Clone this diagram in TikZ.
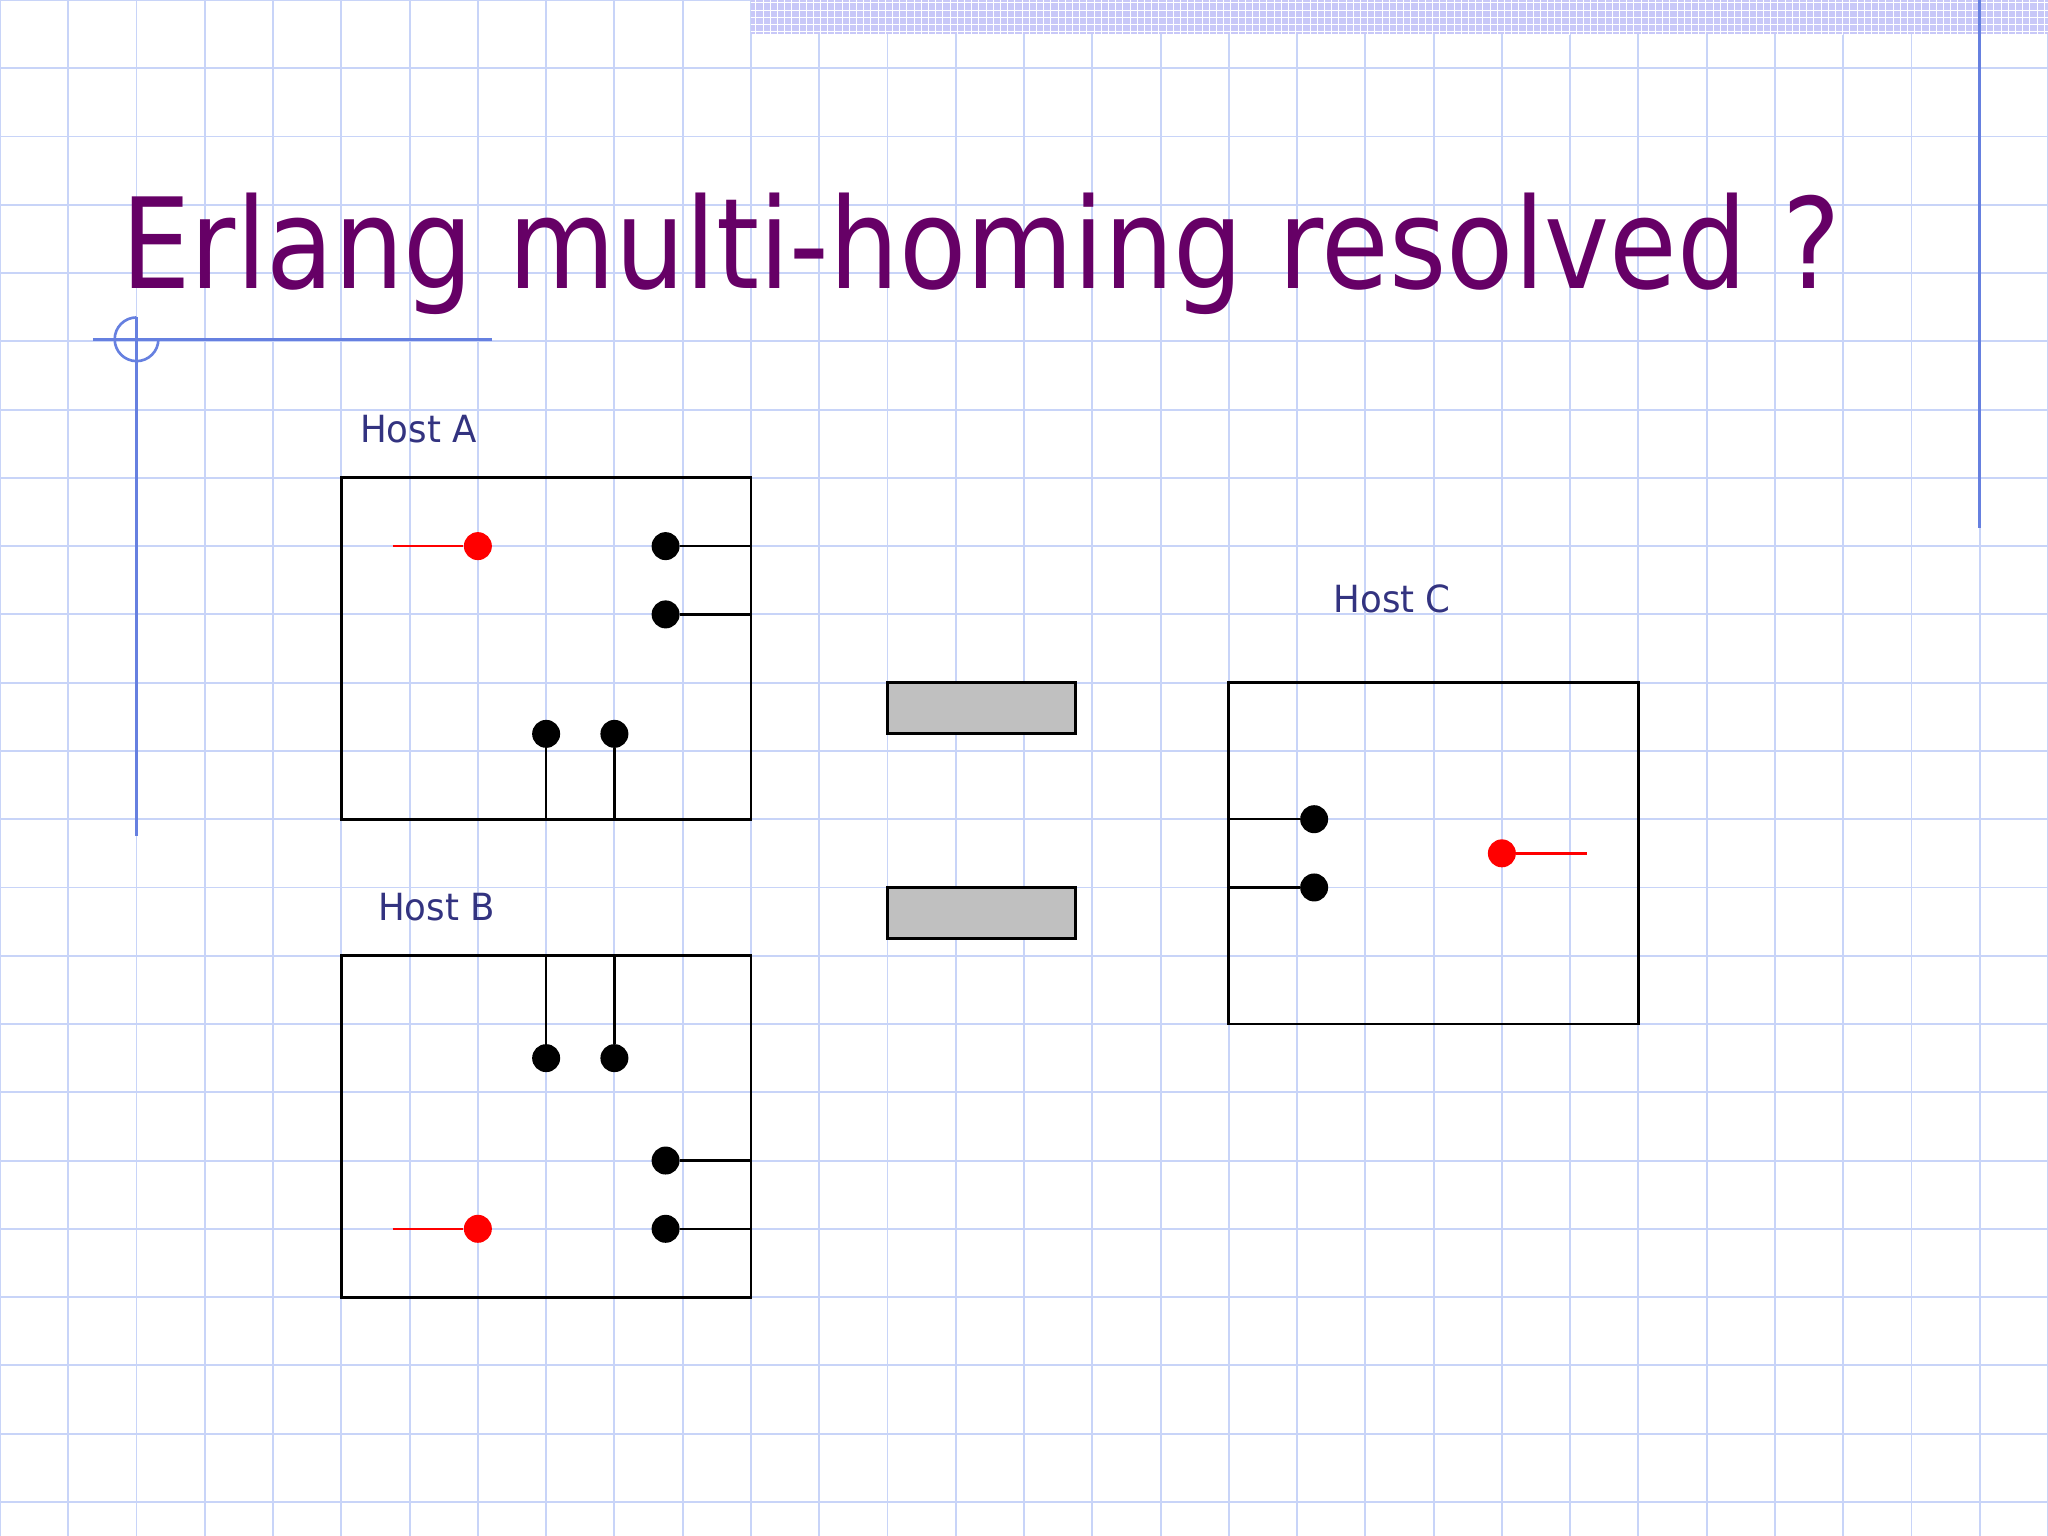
\documentclass[tikz,border=0pt]{standalone}
\usepackage{fontspec}
\newfontfamily\titlefont[FakeStretch=0.875]{DejaVu Sans}
\newfontfamily\hostfont[FakeStretch=0.95]{DejaVu Sans}
\usetikzlibrary{patterns}

\definecolor{gridblue}{RGB}{200,212,248}
\definecolor{decorblue}{RGB}{102,128,224}
\definecolor{bannerblue}{RGB}{200,200,248}
\definecolor{titlepurple}{RGB}{102,0,102}
\definecolor{hostblue}{RGB}{51,51,128}
\definecolor{linkgray}{RGB}{192,192,192}

\tikzset{
  hostbox/.style={draw, line width=1.2pt, inner sep=0,
    minimum width=6cm, minimum height=5cm},
  link/.style={draw, fill=linkgray, line width=1.2pt, inner sep=0,
    minimum width=2.75cm, minimum height=0.75cm},
  dot/.style={circle, fill=black, inner sep=0, minimum size=0.41cm},
  reddot/.style={dot, fill=red},
  wire/.style={line width=1pt},
  redwire/.style={red, line width=1pt},
  decor/.style={decorblue, line width=1.1pt},
  hostlabel/.style={anchor=base west, inner sep=0, text=hostblue,
    font=\hostfont\fontsize{15.6}{18}\selectfont}
}

\begin{document}
\begin{tikzpicture}[x=1cm, y=-1cm]
  \useasboundingbox (0,0) rectangle (30,22.5);
  \fill[white] (0,0) rectangle (30,22.5);
  \draw[gridblue, line width=0.8pt] (0,0) grid (30,22.5);
  \fill[bannerblue] (11,0) rectangle (30,0.5);
  \fill[pattern=grid, pattern color=white] (11,0) rectangle (30,0.5);

  % slide decoration
  \draw[decor] (1.36,4.97) -- (7.2,4.97);
  \draw[decor] (2,4.65) -- (2,12.25);
  \draw[decor] (2,4.65) arc[start angle=-90, end angle=-360, radius=0.32];
  \draw[decor] (29,0) -- (29,7.74);

  \node[anchor=base west, inner sep=0, text=titlepurple,
    font=\titlefont\fontsize{52.4}{60}\selectfont] (title)
    at (1.77,4.22) {Erlang multi-homing resolved ?};

  % hosts
  \node[hostbox] (boxA) at (8,9.5) {};
  \node[hostbox] (boxB) at (8,16.5) {};
  \node[hostbox] (boxC) at (21,12.5) {};
  \node[hostlabel] (labA) at (5.27,6.48) {Host A};
  \node[hostlabel] (labB) at (5.53,13.48) {Host B};
  \node[hostlabel] (labC) at (19.53,8.97) {Host C};

  % links
  \node[link] (link1) at (14.375,10.375) {};
  \node[link] (link2) at (14.375,13.375) {};

  % Host A
  \coordinate (ra0) at (5.75,8);
  \node[reddot] (ra) at (7,8) {};
  \node[dot] (a1) at (9.75,8) {};
  \node[dot] (a2) at (9.75,9) {};
  \node[dot] (a3) at (8,10.75) {};
  \node[dot] (a4) at (9,10.75) {};
  \draw[redwire] (ra0) -- (ra);
  \foreach \d in {a1,a2} \draw[wire] (\d) -- (\d -| boxA.east);
  \foreach \d in {a3,a4} \draw[wire] (\d) -- (\d |- boxA.south);

  % Host B
  \coordinate (rb0) at (5.75,18);
  \node[reddot] (rb) at (7,18) {};
  \node[dot] (b1) at (9.75,17) {};
  \node[dot] (b2) at (9.75,18) {};
  \node[dot] (b3) at (8,15.5) {};
  \node[dot] (b4) at (9,15.5) {};
  \draw[redwire] (rb0) -- (rb);
  \foreach \d in {b1,b2} \draw[wire] (\d) -- (\d -| boxB.east);
  \foreach \d in {b3,b4} \draw[wire] (\d) -- (\d |- boxB.north);

  % Host C
  \coordinate (rc0) at (23.25,12.5);
  \node[reddot] (rc) at (22,12.5) {};
  \node[dot] (c1) at (19.25,12) {};
  \node[dot] (c2) at (19.25,13) {};
  \draw[redwire] (rc) -- (rc0);
  \foreach \d in {c1,c2} \draw[wire] (\d) -- (\d -| boxC.west);
\end{tikzpicture}
\end{document}
